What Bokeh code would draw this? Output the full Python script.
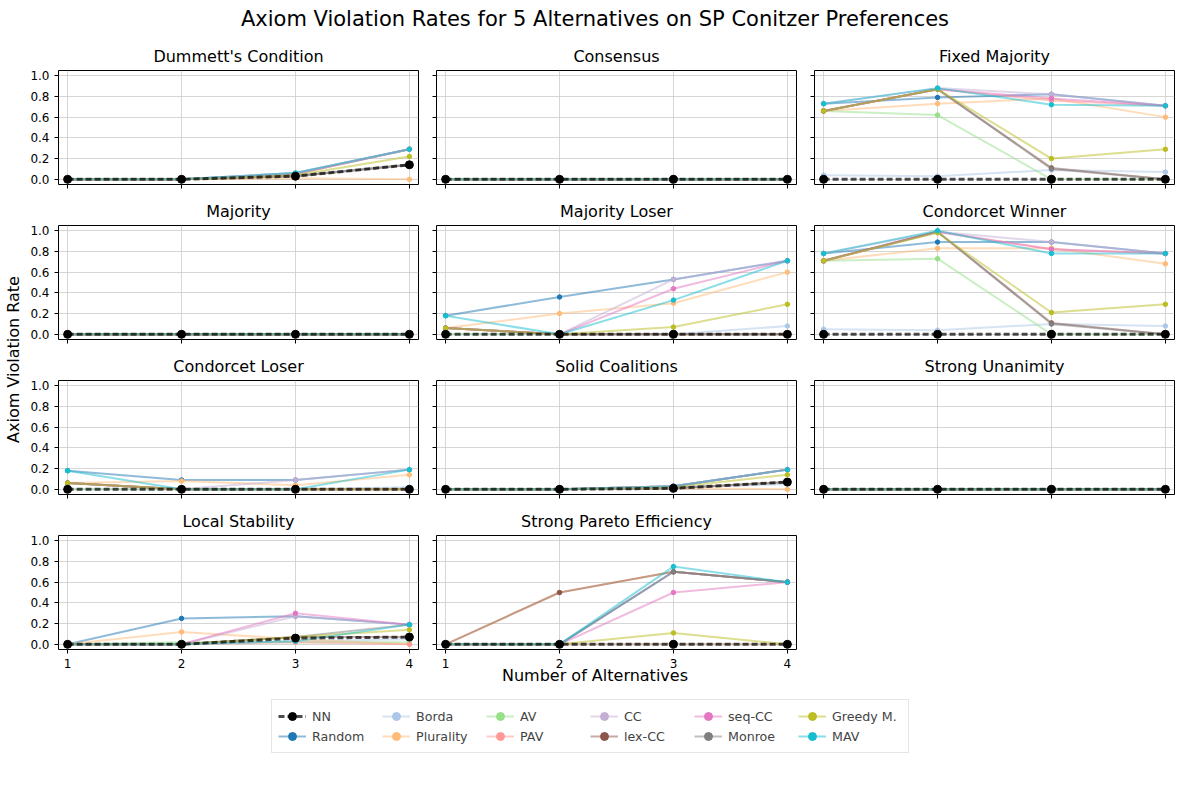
from bokeh.plotting import figure
from bokeh.layouts import column, row, gridplot
from bokeh.models import Div, Legend, LegendItem, Range1d, FixedTicker
from bokeh.core.properties import value
from bokeh.embed import file_html
from bokeh.resources import INLINE

alternatives = [1, 2, 3, 4]
methods = ["NN", "Random", "Borda", "Plurality", "AV", "PAV", "CC", "lex-CC",
           "seq-CC", "Monroe", "Greedy M.", "MAV"]
colors = ["black", "#1f77b4", "#aec7e8", "#ffbb78", "#98df8a", "#ff9896", "#c5b0d5",
          "#8c564b", "#e377c2", "#7f7f7f", "#bcbd22", "#17becf"]

Z = [0, 0, 0, 0]
dummett = {"NN": [0, 0, 0.03, 0.14], "Random": [0, 0, 0.06, 0.29], "Borda": [0, 0, 0.04, 0.14],
           "Plurality": [0, 0, 0.01, 0], "AV": [0, 0, 0.05, 0.29], "PAV": [0, 0, 0.05, 0.29],
           "CC": [0, 0, 0.06, 0.29], "lex-CC": [0, 0, 0.03, 0.14], "seq-CC": [0, 0, 0.05, 0.29],
           "Monroe": [0, 0, 0.03, 0.14], "Greedy M.": [0, 0, 0.04, 0.22], "MAV": [0, 0, 0.06, 0.29]}
consensus = {m: Z for m in methods}
fixed_majority = {"NN": Z, "Random": [0.73, 0.79, 0.82, 0.71], "Borda": [0.04, 0.03, 0.09, 0.07],
                  "Plurality": [0.66, 0.73, 0.78, 0.60], "AV": [0.66, 0.62, 0, 0],
                  "PAV": [0.66, 0.87, 0.76, 0.71], "CC": [0.73, 0.88, 0.82, 0.71],
                  "lex-CC": [0.66, 0.87, 0.11, 0], "seq-CC": [0.66, 0.87, 0.78, 0.71],
                  "Monroe": [0.66, 0.87, 0.10, 0], "Greedy M.": [0.66, 0.87, 0.20, 0.29],
                  "MAV": [0.73, 0.88, 0.72, 0.71]}
majority = {m: Z for m in methods}
majority_loser = {"NN": Z, "Random": [0.18, 0.36, 0.53, 0.71], "Borda": [0, 0, 0, 0.08],
                  "Plurality": [0.06, 0.20, 0.30, 0.60], "AV": Z, "PAV": [0.06, 0, 0, 0],
                  "CC": [0.06, 0, 0.53, 0.71], "lex-CC": [0.06, 0, 0, 0],
                  "seq-CC": [0.06, 0, 0.44, 0.71], "Monroe": [0.06, 0, 0, 0],
                  "Greedy M.": [0.06, 0, 0.07, 0.29], "MAV": [0.18, 0, 0.33, 0.71]}
condorcet_winner = {"NN": Z, "Random": [0.78, 0.89, 0.89, 0.78], "Borda": [0.05, 0.04, 0.10, 0.08],
                    "Plurality": [0.71, 0.83, 0.83, 0.68], "AV": [0.71, 0.73, 0, 0],
                    "PAV": [0.71, 0.99, 0.82, 0.78], "CC": [0.78, 0.99, 0.89, 0.78],
                    "lex-CC": [0.71, 0.99, 0.11, 0], "seq-CC": [0.71, 0.99, 0.82, 0.78],
                    "Monroe": [0.71, 0.99, 0.10, 0], "Greedy M.": [0.71, 0.98, 0.21, 0.29],
                    "MAV": [0.78, 1.0, 0.78, 0.78]}
condorcet_loser = {"NN": Z, "Random": [0.18, 0.09, 0.09, 0.19], "Borda": [0, 0, 0, 0.02],
                   "Plurality": [0.06, 0.08, 0.04, 0.14], "AV": Z, "PAV": [0.06, 0, 0, 0],
                   "CC": [0.06, 0, 0.09, 0.19], "lex-CC": [0.06, 0, 0, 0],
                   "seq-CC": [0.06, 0, 0, 0], "Monroe": [0.06, 0, 0, 0],
                   "Greedy M.": [0.06, 0, 0, 0], "MAV": [0.18, 0, 0, 0.19]}
solid_coalitions = {"NN": [0, 0, 0.01, 0.07], "Random": [0, 0, 0.03, 0.19], "Borda": [0, 0, 0.02, 0.05],
                    "Plurality": [0, 0, 0.01, 0], "AV": [0, 0, 0.03, 0.19], "PAV": [0, 0, 0.03, 0.19],
                    "CC": [0, 0, 0.03, 0.19], "lex-CC": [0, 0, 0.01, 0.07], "seq-CC": [0, 0, 0.03, 0.19],
                    "Monroe": [0, 0, 0.01, 0.07], "Greedy M.": [0, 0, 0.02, 0.14], "MAV": [0, 0, 0.03, 0.19]}
strong_unanimity = {m: Z for m in methods}
local_stability = {"NN": [0, 0, 0.06, 0.07], "Random": [0, 0.25, 0.27, 0.19], "Borda": [0, 0, 0.03, 0.05],
                   "Plurality": [0, 0.12, 0.05, 0], "AV": [0, 0.02, 0.02, 0.02], "PAV": [0, 0, 0.02, 0],
                   "CC": [0, 0, 0.27, 0.19], "lex-CC": [0, 0, 0.07, 0.07], "seq-CC": [0, 0, 0.30, 0.19],
                   "Monroe": [0, 0, 0.07, 0.19], "Greedy M.": [0, 0, 0.07, 0.14], "MAV": [0, 0, 0.03, 0.19]}
strong_pareto = {"NN": Z, "Random": [0, 0, 0.70, 0.60], "Borda": Z, "Plurality": [0, 0.50, 0.70, 0.60],
                 "AV": Z, "PAV": Z, "CC": [0, 0, 0.70, 0.60], "lex-CC": [0, 0.50, 0.70, 0.60],
                 "seq-CC": [0, 0, 0.50, 0.60], "Monroe": [0, 0, 0.70, 0.60],
                 "Greedy M.": [0, 0, 0.11, 0], "MAV": [0, 0, 0.75, 0.60]}

axioms = [("Dummett's Condition", dummett), ("Consensus", consensus), ("Fixed Majority", fixed_majority),
          ("Majority", majority), ("Majority Loser", majority_loser), ("Condorcet Winner", condorcet_winner),
          ("Condorcet Loser", condorcet_loser), ("Solid Coalitions", solid_coalitions),
          ("Strong Unanimity", strong_unanimity), ("Local Stability", local_stability),
          ("Strong Pareto Efficiency", strong_pareto)]

yticks = [0, 0.2, 0.4, 0.6, 0.8, 1.0]
FONT = "DejaVu Sans"
plots = []
for i, (name, data) in enumerate(axioms):
    r, c = divmod(i, 3)
    p = figure(frame_width=360, frame_height=114, output_backend="svg", toolbar_location=None,
               x_range=Range1d(0.92, 4.08), y_range=Range1d(-0.05, 1.05),
               min_border_left=36 if c == 0 else 16, min_border_right=2, min_border_top=4,
               min_border_bottom=22 if i >= 9 else 10)
    p.title.text = name
    p.title.align = "center"
    p.title.text_font = FONT
    p.title.text_font_size = "12pt"
    p.title.text_font_style = "normal"
    p.title.text_color = "black"
    p.outline_line_color = "black"
    p.xaxis.ticker = FixedTicker(ticks=alternatives)
    p.yaxis.ticker = FixedTicker(ticks=yticks)
    for ax in (p.xaxis, p.yaxis):
        ax.axis_line_color = None
        ax.minor_tick_line_color = None
        ax.major_tick_in = 0
        ax.major_tick_out = 4
        ax.major_label_text_font = FONT
        ax.major_label_text_font_size = "9pt"
        ax.major_label_text_color = "black"
    p.yaxis.major_label_overrides = {t: "%.1f" % t for t in yticks}
    if i < 9:
        p.xaxis.major_label_overrides = {t: "" for t in alternatives}
    if c != 0:
        p.yaxis.major_label_overrides = {t: "" for t in yticks}
    p.grid.grid_line_color = "#cccccc"
    p.grid.grid_line_width = 0.8
    for m, col in zip(methods[1:], colors[1:]):
        p.line(alternatives, data[m], line_color=col, line_alpha=0.5, line_width=2)
        p.scatter(alternatives, data[m], size=4.5, color=col)
    p.line(alternatives, data["NN"], line_color="black", line_alpha=0.7, line_width=3,
           line_dash="6 3")
    p.scatter(alternatives, data["NN"], size=8, color="black")
    plots.append(p)

grid = gridplot([plots[0:3], plots[3:6], plots[6:9], plots[9:11] + [None]],
                toolbar_location=None)

ylab = figure(width=22, height=640, output_backend="svg", toolbar_location=None,
              x_range=Range1d(0, 1), y_range=Range1d(0, 1), outline_line_color=None,
              min_border=0)
ylab.axis.visible = False
ylab.grid.visible = False
ylab.text([0.6], [0.5], text=["Axiom Violation Rate"], angle=1.5708, text_align="center",
          text_baseline="middle", text_font_size="12pt", text_font=value(FONT))

title = Div(text="Axiom Violation Rates for 5 Alternatives on SP Conitzer Preferences",
            width=1180, styles={"text-align": "center", "font-size": "21px", "color": "black",
                                "font-family": "DejaVu Sans", "margin-top": "4px"})
xlab = Div(text="Number of Alternatives", width=1180, height=26,
           styles={"text-align": "center", "font-size": "12pt", "font-family": "DejaVu Sans",
                   "margin-top": "-14px", "color": "black"})

leg = figure(width=1180, height=60, output_backend="svg", toolbar_location=None,
             x_range=Range1d(0, 1), y_range=Range1d(0, 1), outline_line_color=None, min_border=0)
leg.axis.visible = False
leg.grid.visible = False
items = []
for m, col in zip(methods, colors):
    if m == "NN":
        l = leg.line([-5, -4], [-5, -4], line_color="black", line_alpha=0.7, line_width=3, line_dash="6 3")
        s = leg.scatter([-5], [-5], size=8, color="black")
    else:
        l = leg.line([-5, -4], [-5, -4], line_color=col, line_alpha=0.5, line_width=2)
        s = leg.scatter([-5], [-5], size=4.5, color=col)
    items.append(LegendItem(label=m, renderers=[l, s]))
legend = Legend(items=items, orientation="vertical", nrows=2, location="center",
                label_text_font=FONT, label_text_font_size="9.5pt", border_line_color="#cccccc",
                glyph_width=28, label_standoff=6, spacing=0, padding=6, margin=0,
                label_height=14, label_width=70)
leg.add_layout(legend, "center")

p = column(title, row(ylab, grid), xlab, leg, spacing=0)
open("out.html", "w").write(file_html(p, INLINE))
